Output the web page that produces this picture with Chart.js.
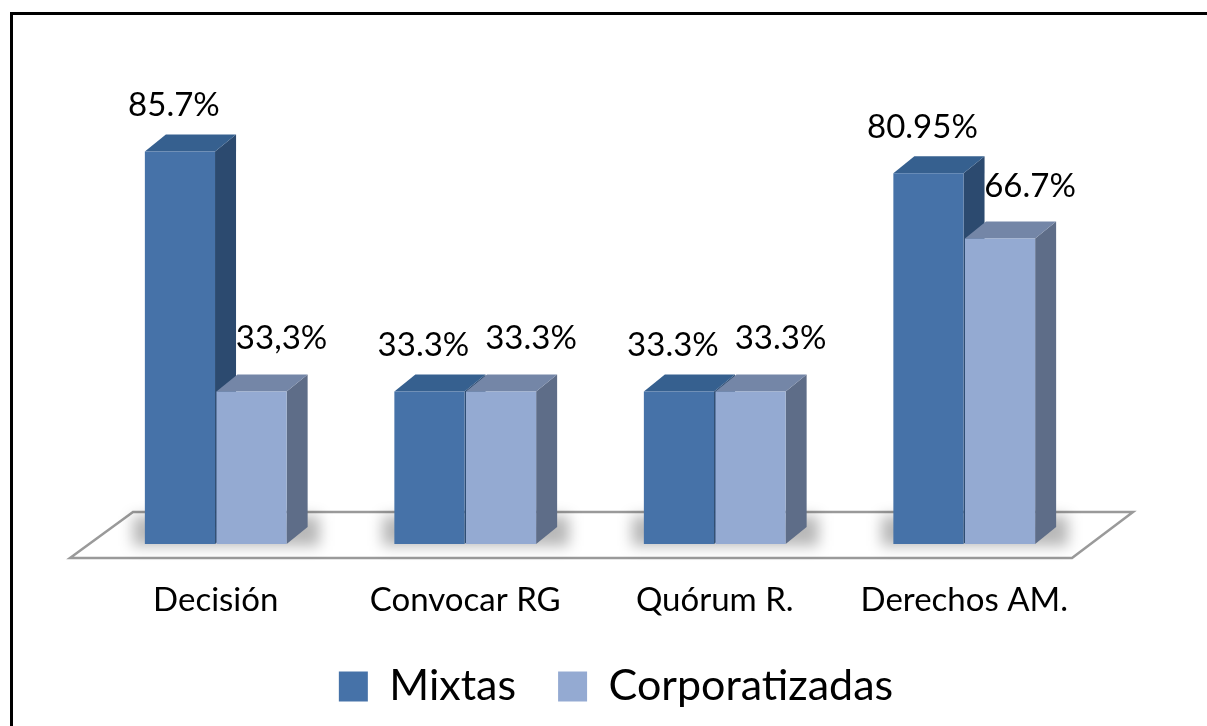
<!DOCTYPE html>
<html>
<head>
<meta charset="utf-8">
<script src="https://cdn.jsdelivr.net/npm/chart.js@4"></script>
<style>
  html, body { margin: 0; padding: 0; background: #fff; overflow: hidden; }
  #wrap { width: 1207px; height: 726px; position: relative; }
</style>
</head>
<body>
<div id="wrap"><canvas id="chart"></canvas></div>
<script>
// ---------------------------------------- | Data

const categories = ["Decisión", "Convocar RG", "Quórum R.", "Derechos AM."]
const mixtas = [85.7, 33.3, 33.3, 80.95]
const corporatizadas = [33.3, 33.3, 33.3, 66.7]
const mixtasText = ["85.7%", "33.3%", "33.3%", "80.95%"]
const corporatizadasText = ["33,3%", "33.3%", "33.3%", "66.7%"]

// ---------------------------------------- | 3D look

const DX = 21
const DY = 17
const faces = [
  { front: "#4672A8", side: "#2C4A6F", top: "#36608F", text: mixtasText },
  { front: "#94AAD2", side: "#5E6D88", top: "#7486A7", text: corporatizadasText }
]

const bars3d = {
  id: "bars3d",
  beforeDraw(chart) {
    const { ctx } = chart
    ctx.save()
    ctx.fillStyle = "#fff"
    ctx.fillRect(0, 0, chart.width, chart.height)
    // frame: only top and left edges fall inside the picture
    ctx.strokeStyle = "#000"
    ctx.lineWidth = 3
    ctx.beginPath()
    ctx.moveTo(11.5, chart.height)
    ctx.lineTo(11.5, 13.5)
    ctx.lineTo(chart.width, 13.5)
    ctx.stroke()
    ctx.restore()
  },
  beforeDatasetsDraw(chart) {
    const { ctx, chartArea: a, scales: { y } } = chart
    const base = y.getPixelForValue(0)
    ctx.save()

    // floor
    ctx.beginPath()
    ctx.moveTo(a.left - 21, base + 14)
    ctx.lineTo(a.left + 42, base - 32)
    ctx.lineTo(a.right + 44, base - 32)
    ctx.lineTo(a.right - 17, base + 14)
    ctx.closePath()
    ctx.fillStyle = "#fff"
    ctx.fill()
    ctx.strokeStyle = "#9a9a9a"
    ctx.lineWidth = 2.5
    ctx.stroke()

    // soft shadows round the bar feet
    ctx.filter = "blur(7px)"
    ctx.fillStyle = "rgba(0,0,0,0.28)"
    categories.forEach((_, i) => {
      const first = chart.getDatasetMeta(0).data[i]
      const last = chart.getDatasetMeta(1).data[i]
      const l = first.x - first.width / 2
      const r = last.x + last.width / 2
      ctx.fillRect(l - 12, base - 28, r - l + DX + 24, 30)
    })
    ctx.filter = "none"

    // side and top faces
    categories.forEach((_, i) => {
      chart.data.datasets.forEach((ds, d) => {
        const bar = chart.getDatasetMeta(d).data[i]
        const l = bar.x - bar.width / 2
        const r = bar.x + bar.width / 2
        const t = bar.y
        const b = bar.base

        ctx.beginPath()
        ctx.moveTo(r, t)
        ctx.lineTo(r + DX, t - DY)
        ctx.lineTo(r + DX, b - DY)
        ctx.lineTo(r, b)
        ctx.closePath()
        ctx.fillStyle = faces[d].side
        ctx.fill()

        ctx.beginPath()
        ctx.moveTo(l, t)
        ctx.lineTo(l + DX, t - DY)
        ctx.lineTo(r + DX, t - DY)
        ctx.lineTo(r, t)
        ctx.closePath()
        ctx.fillStyle = faces[d].top
        ctx.fill()
      })
    })
    ctx.restore()
  },
  afterDatasetsDraw(chart) {
    const { ctx } = chart
    ctx.save()
    ctx.font = "33px Lato"
    ctx.fillStyle = "#000"
    ctx.textAlign = "center"
    ctx.textBaseline = "alphabetic"
    chart.data.datasets.forEach((ds, d) => {
      chart.getDatasetMeta(d).data.forEach((bar, i) => {
        const x = d === 0 ? bar.x - 6 : bar.x + 30
        const yy = d === 0 ? bar.y - DY - 18 : bar.y - DY - 25
        ctx.fillText(faces[d].text[i], x, yy)
      })
    })
    ctx.restore()
  }
}

// ---------------------------------------- | Chart

const ctx = document.getElementById("chart").getContext("2d")

const chart = new Chart(ctx, {
  type: "bar",
  plugins: [bars3d],
  data: {
    labels: categories,
    datasets: [
      { label: "Mixtas", data: mixtas, backgroundColor: faces[0].front },
      { label: "Corporatizadas", data: corporatizadas, backgroundColor: faces[1].front }
    ]
  },
  options: {
    responsive: true,
    maintainAspectRatio: false,
    animation: false,
    devicePixelRatio: 1,
    categoryPercentage: 0.574,
    barPercentage: 0.98,
    layout: {
      padding: { top: 86, left: 91, right: 66, bottom: 8 }
    },
    scales: {
      x: {
        grid: { display: false, drawTicks: false },
        border: { display: false },
        ticks: {
          color: "#000",
          padding: 37,
          font: { family: "Lato", size: 33 }
        },
        afterFit(scale) {
          scale.height = 79
        }
      },
      y: {
        position: "right",
        min: 0,
        max: 100,
        grid: { display: false, drawTicks: false },
        border: { display: false },
        ticks: { display: false },
        afterFit(scale) {
          scale.width = 52
        }
      }
    },
    plugins: {
      legend: {
        position: "bottom",
        labels: {
          color: "#000",
          boxWidth: 29,
          boxHeight: 30,
          padding: 42,
          font: { family: "Lato", size: 43 }
        }
      },
      tooltip: { enabled: false }
    }
  }
})
</script>
</body>
</html>
